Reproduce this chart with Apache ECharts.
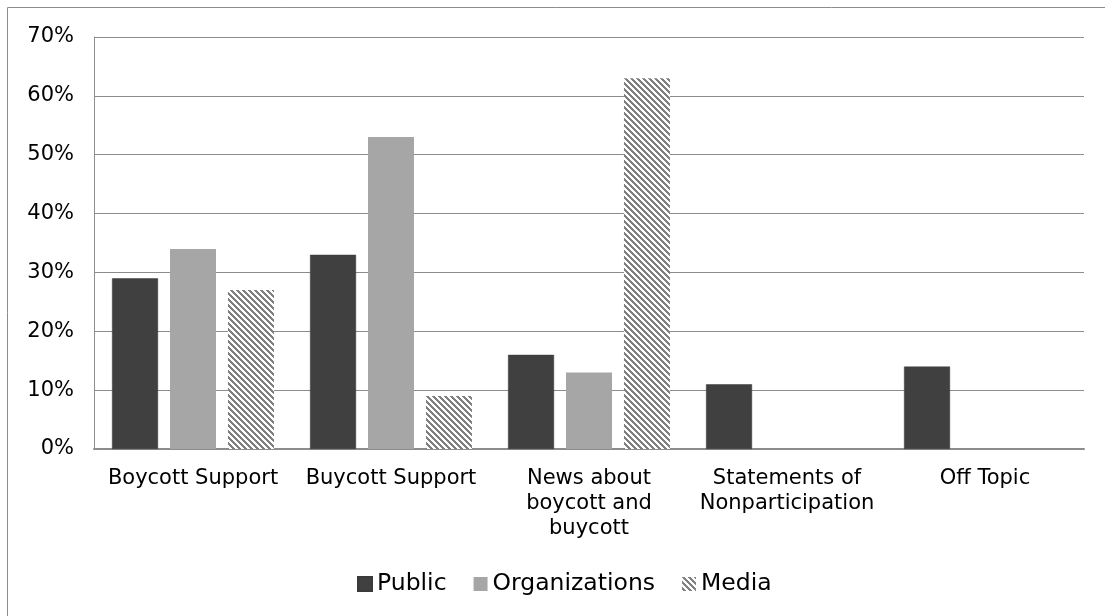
<!DOCTYPE html>
<html>
<head>
<meta charset="utf-8">
<script src="https://cdn.jsdelivr.net/npm/echarts@6/dist/echarts.min.js"></script>
<style>
  html, body { margin: 0; padding: 0; background: #fff; }
  #chart { width: 1105px; height: 616px; }
</style>
</head>
<body>
<div id="chart"></div>
<script>
var categories = ['Boycott Support', 'Buycott Support', 'News about\nboycott and\nbuycott', 'Statements of\nNonparticipation', 'Off Topic'];
var publicData = [29, 33, 16, 11, 14];
var orgData = [34, 53, 13, 0, 0];
var mediaData = [27, 9, 63, 0, 0];
var yTicks = [0, 10, 20, 30, 40, 50, 60, 70];

// diagonal hatch for Media
function makeHatch() {
  var c = document.createElement('canvas');
  c.width = 6; c.height = 6;
  var ctx = c.getContext('2d');
  ctx.fillStyle = '#fff';
  ctx.fillRect(0, 0, 6, 6);
  ctx.fillStyle = '#808080';
  for (var y = 0; y < 6; y++) {
    for (var x = 0; x < 6; x++) {
      if (((x - y + 12) % 6) < 3) ctx.fillRect(x, y, 1, 1);
    }
  }
  return c;
}
var hatch = { image: makeHatch(), repeat: 'repeat' };

var font = '"DejaVu Sans", Verdana, sans-serif';
var chart = echarts.init(document.getElementById('chart'));
chart.setOption({
  animation: false,
  textStyle: { fontFamily: font },
  graphic: [{
    type: 'rect',
    shape: { x: 7.5, y: 7.5, width: 1120, height: 640 },
    style: { fill: 'none', stroke: '#8c8c8c', lineWidth: 1 },
    silent: true
  }],
  grid: { left: 94, right: 21, top: 37, bottom: 167 },
  legend: {
    bottom: 15,
    left: 352,
    itemWidth: 14,
    itemHeight: 14,
    itemGap: 27,
    icon: 'rect',
    textStyle: { fontSize: 23.5, color: '#000', fontFamily: font },
    data: ['Public', 'Organizations', 'Media']
  },
  xAxis: {
    type: 'category',
    data: categories,
    axisLine: { lineStyle: { color: '#8c8c8c', width: 2 } },
    axisTick: { show: false },
    axisLabel: { fontSize: 21, color: '#000', lineHeight: 25, margin: 17, interval: 0 }
  },
  yAxis: {
    type: 'value',
    min: 0,
    max: 70,
    interval: 10,
    axisLine: { show: true, lineStyle: { color: '#8c8c8c', width: 1 } },
    axisTick: { show: false },
    splitLine: { lineStyle: { color: '#8c8c8c', width: 1 } },
    axisLabel: {
      fontSize: 21, color: '#000', margin: 20,
      formatter: function (v) { return yTicks.indexOf(v) >= 0 ? v + '%' : ''; }
    }
  },
  series: [
    {
      name: 'Public', type: 'bar', data: publicData,
      barWidth: 46, barGap: '26%',
      itemStyle: { color: '#404040', borderColor: '#3a3a3a', borderWidth: 0.5 }
    },
    {
      name: 'Organizations', type: 'bar', data: orgData,
      barWidth: 46, barGap: '26%',
      itemStyle: { color: '#a6a6a6' }
    },
    {
      name: 'Media', type: 'bar', data: mediaData,
      barWidth: 46, barGap: '26%',
      itemStyle: { color: hatch }
    }
  ]
});
</script>
</body>
</html>
